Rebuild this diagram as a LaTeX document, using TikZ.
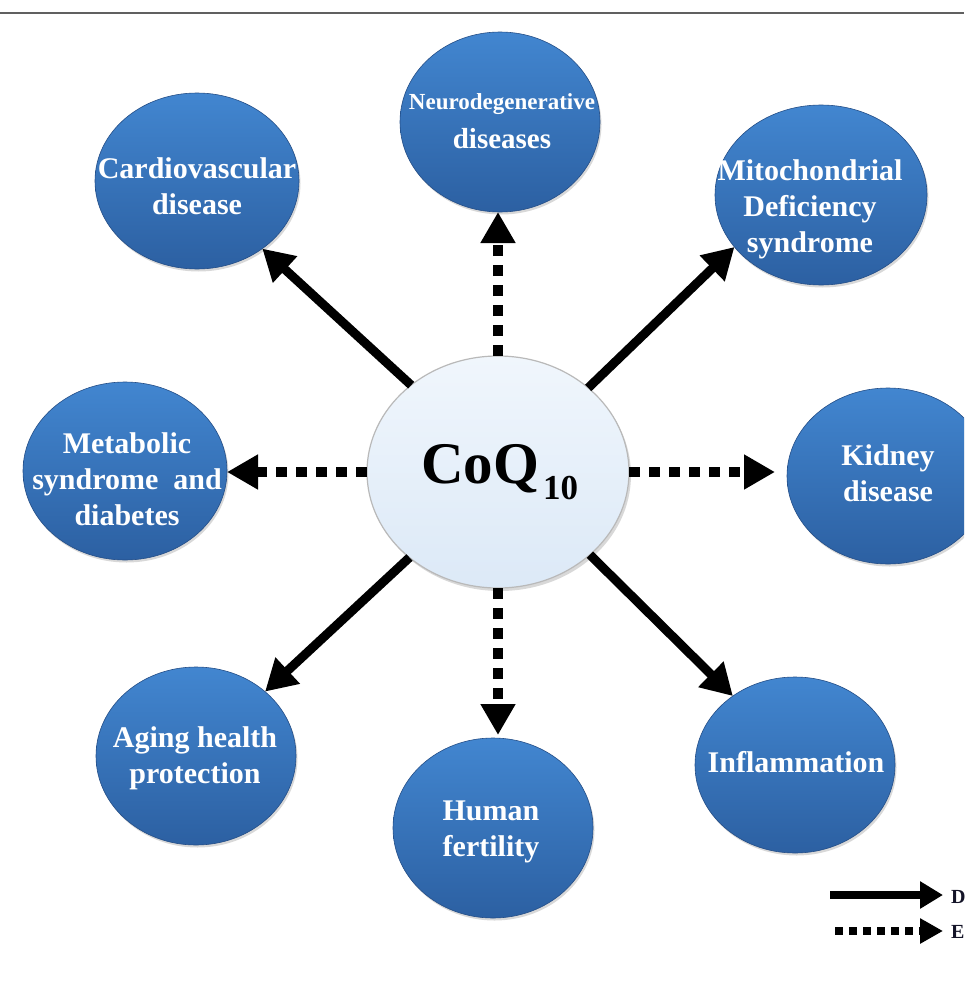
\documentclass[tikz,border=0pt]{standalone}
\usepackage{fontspec}
\setmainfont{Liberation Serif}
\usetikzlibrary{arrows.meta,shapes.geometric,shadows}
\definecolor{bluetop}{RGB}{66,134,208}
\definecolor{bluebot}{RGB}{44,96,162}
\definecolor{bluerim}{RGB}{36,78,135}
\definecolor{coretop}{RGB}{240,246,252}
\definecolor{corebot}{RGB}{220,233,247}
\definecolor{legtext}{RGB}{20,20,40}
\begin{document}
\begin{tikzpicture}[x=1pt,y=-1pt,
  bub/.style={ellipse, inner sep=0pt, outer sep=0pt, top color=bluetop, bottom color=bluebot,
    draw=bluerim, line width=0.6pt,
    drop shadow={shadow xshift=1.5pt, shadow yshift=-2.5pt, opacity=0.3}},
  core/.style={ellipse, inner sep=0pt, outer sep=0pt, minimum width=262pt, minimum height=232pt,
    top color=coretop, bottom color=corebot, draw=gray!55, line width=1.2pt,
    drop shadow={shadow xshift=2pt, shadow yshift=-3pt, opacity=0.3}},
  lbl/.style={text=white, font=\bfseries\fontsize{30}{36}\selectfont, align=center, inner sep=0pt},
  solidarr/.style={line width=9pt, -{Triangle[length=31pt,width=34pt]}},
  dotarr/.style={line width=10pt, dash pattern=on 11pt off 9pt, -{Triangle[length=31pt,width=33pt]}},
  legsolid/.style={line width=8pt, -{Triangle[length=23pt,width=26pt]}},
  legdot/.style={line width=8pt, dash pattern=on 8pt off 6pt, -{Triangle[length=23pt,width=24pt]}},
  legtxt/.style={text=legtext, font=\bfseries\fontsize{20}{22}\selectfont, inner sep=0pt, anchor=west},
]
\clip (0,0) rectangle (964,985);
\fill[white] (0,0) rectangle (964,985);

% top rule
\coordinate (tl) at (0,13);
\coordinate (tr) at (964,13);
\draw[gray!75!black, line width=1.5pt] (tl) -- (tr);

% outer bubbles
\node[bub, minimum width=204pt, minimum height=176pt] (cardio) at (197,181) {};
\node[bub, minimum width=200pt, minimum height=180pt] (neuro) at (500,122) {};
\node[bub, minimum width=212pt, minimum height=180pt] (mito) at (821,195) {};
\node[bub, minimum width=204pt, minimum height=178pt] (metab) at (125,471) {};
\node[bub, minimum width=202pt, minimum height=176pt] (kidney) at (888,476) {};
\node[bub, minimum width=200pt, minimum height=178pt] (aging) at (196,756) {};
\node[bub, minimum width=200pt, minimum height=180pt] (fert) at (493,828) {};
\node[bub, minimum width=200pt, minimum height=176pt] (inflam) at (795,765) {};

% centre
\node[core] (c) at (498,472) {};

% labels
\node[lbl] (cardio-t) at (197,186) {Cardiovascular\\disease};
\node[lbl, font=\bfseries\fontsize{23}{26}\selectfont] (neuro-t1) at (502,104) {Neurodegenerative};
\node[lbl, font=\bfseries\fontsize{29}{34}\selectfont] (neuro-t2) at (502,139) {diseases};
\node[lbl] (mito-t) at (810,209) {Mitochondrial\\Deficiency\\syndrome};
\node[lbl] (metab-t) at (127,479) {Metabolic\\syndrome\ \ and\\diabetes};
\node[lbl] (kidney-t) at (888,473) {Kidney\\disease};
\node[lbl] (aging-t) at (195,758) {Aging health\\protection};
\node[lbl] (fert-t) at (491,832) {Human\\fertility};
\node[lbl] (inflam-t) at (796,762) {Inflammation};
\node[font=\bfseries, inner sep=0pt, anchor=base west] (core-t) at (421,483)
  {\fontsize{59}{60}\selectfont CoQ\kern4pt\raisebox{-16pt}{\fontsize{35}{35}\selectfont 10}};

% connectors
\draw[solidarr] (c.135.7) -- (cardio.-46.7);
\draw[dotarr] (c.north) -- (c.north |- neuro.south);
\draw[solidarr] (c.43.5) -- (mito.211.7);
\draw[dotarr] (c.west) -- (c.west -| metab.east);
\draw[dotarr, shorten >=12pt] (c.east) -- (c.east -| kidney.west);
\draw[solidarr] (c.224.7) -- (aging.43.8);
\draw[dotarr, shorten >=3pt] (c.south) -- (c.south |- fert.north);
\draw[solidarr] (c.-42.8) -- (inflam.132.8);

% legend
\coordinate (ld-s) at (830,895);
\coordinate (le-s) at (835,931);
\node[legtxt] (ld) at (951,897) {D};
\node[legtxt] (le) at (951,932) {E};
\draw[legsolid, shorten >=8pt] (ld-s) -- (ld-s -| ld.west);
\draw[legdot, shorten >=8pt] (le-s) -- (le-s -| le.west);
\end{tikzpicture}
\end{document}
